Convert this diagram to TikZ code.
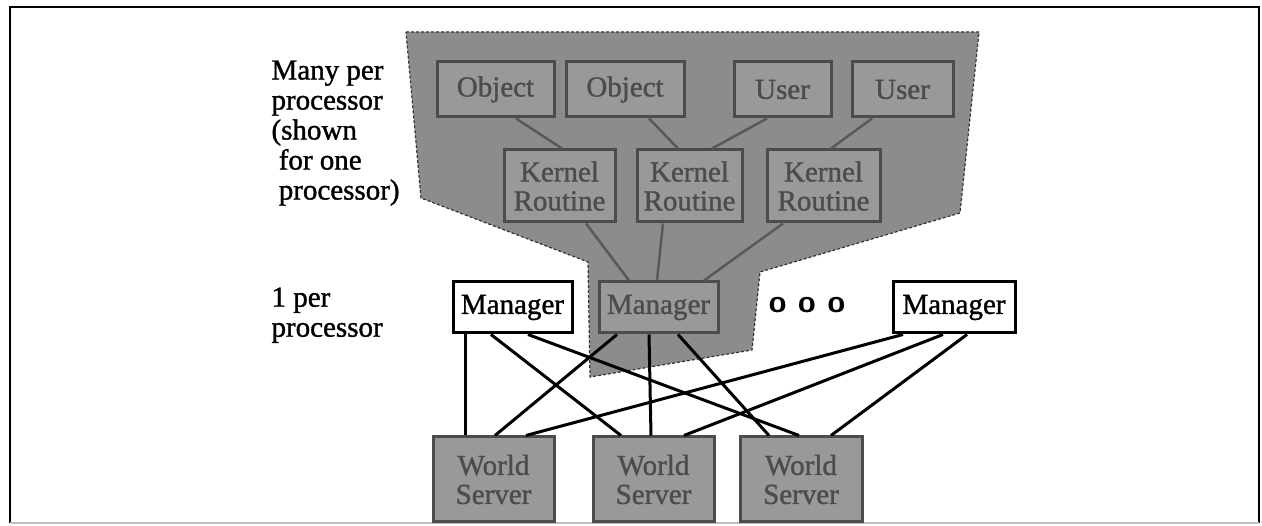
\documentclass[tikz,border=0pt]{standalone}
\usepackage{fontspec}
\setmainfont{Liberation Serif}[FakeBold=1.2]
\usepackage{tikz}
\definecolor{shade}{gray}{0.55}
\definecolor{boxgray}{gray}{0.6}
\tikzset{
  plain/.style={draw, line width=3pt, fill=white, minimum height=51pt, inner sep=0pt,
    font=\fontsize{29}{29}\selectfont},
  greybox/.style={draw=black!70, line width=3pt, fill=boxgray, text=black!70,
    inner sep=0pt, align=center, font=\fontsize{29}{29}\selectfont},
  link/.style={line width=3pt},
  glink/.style={line width=2.5pt, draw=black!65}
}

\begin{document}
\begin{tikzpicture}[x=1pt,y=-1pt]
  \useasboundingbox (0,0) rectangle (1262,526);
  \draw[line width=2pt] (10,523) -- (10,7) -- (1259,7) -- (1259,523);
  \draw[line width=1.5pt, black!25] (10,523) -- (1259,523);
  % shaded area for one processor
  \filldraw[fill=shade, draw=black!80, line width=1.2pt, densely dashed]
    (406,32) -- (979,32) -- (960,213) -- (760,272) -- (752,350)
    -- (590,377) -- (588,262) -- (421,198) -- cycle;
  % labels
  \node[anchor=north west, align=left, font=\fontsize{29}{30}\selectfont] (many) at (268,57)
    {Many per\\processor\\(shown\\\ for one\\\ processor)};
  \node[anchor=north west, align=left, font=\fontsize{29}{30}\selectfont] (one) at (268,284)
    {1 per\\processor};
  % objects and users
  \node[greybox, minimum width=117pt, minimum height=55pt] (obj1) at (495.5,89.5) {Object};
  \node[greybox, minimum width=118pt, minimum height=55pt] (obj2) at (625,89.5) {Object};
  \node[greybox, minimum width=97pt, minimum height=55pt] (usr1) at (782.5,89.5) {User};
  \node[greybox, minimum width=101pt, minimum height=55pt] (usr2) at (902.5,89.5) {User};
  % kernel routines
  \node[greybox, minimum width=111pt, minimum height=72pt] (ker1) at (559.5,186) {Kernel\\Routine};
  \node[greybox, minimum width=105pt, minimum height=72pt] (ker2) at (689.5,186) {Kernel\\Routine};
  \node[greybox, minimum width=113pt, minimum height=72pt] (ker3) at (823.5,186) {Kernel\\Routine};
  % managers
  \node[plain, minimum width=119pt] (man1) at (512.5,307.5) {Manager};
  \node[greybox, minimum width=119pt, minimum height=51pt] (man2) at (658.5,307.5) {Manager};
  \node[font=\sffamily\bfseries\fontsize{32}{30}\selectfont] (dots) at (807,305) {o o o};
  \node[plain, minimum width=122pt] (man3) at (954,307.5) {Manager};
  % world servers
  \node[greybox, minimum width=121pt, minimum height=85pt] (ws1) at (493.5,479.5) {World\\Server};
  \node[greybox, minimum width=121pt, minimum height=85pt] (ws2) at (653.5,479.5) {World\\Server};
  \node[greybox, minimum width=122pt, minimum height=85pt] (ws3) at (801,479.5) {World\\Server};

  \draw[glink] ([xshift=20.5pt]obj1.south) -- ([xshift=2.5pt]ker1.north);
  \draw[glink] ([xshift=24pt]obj2.south) -- ([xshift=-11.5pt]ker2.north);
  \draw[glink] ([xshift=-15.5pt]usr1.south) -- ([xshift=22.5pt]ker2.north);
  \draw[glink] ([xshift=-30.5pt]usr2.south) -- ([xshift=7.5pt]ker3.north);
  \draw[glink] ([xshift=26.5pt]ker1.south) -- ([xshift=-29.5pt]man2.north);
  \draw[glink] ([xshift=-26.5pt]ker2.south) -- ([xshift=-1.5pt]man2.north);
  \draw[glink] ([xshift=-40.5pt]ker3.south) -- ([xshift=45.5pt]man2.north);

  \draw[link] ([xshift=-47.5pt]man1.south) -- ([xshift=-28.5pt]ws1.north);
  \draw[link] ([xshift=-21.5pt]man1.south) -- ([xshift=-32.5pt]ws2.north);
  \draw[link] ([xshift=15.5pt]man1.south) -- ([xshift=-2pt]ws3.north);
  \draw[link] ([xshift=-41.5pt]man2.south) -- ([xshift=1.5pt]ws1.north);
  \draw[link] ([xshift=-9.5pt]man2.south) -- ([xshift=-2.5pt]ws2.north);
  \draw[link] ([xshift=19.5pt]man2.south) -- ([xshift=-32pt]ws3.north);
  \draw[link] ([xshift=-51pt]man3.south) -- ([xshift=32.5pt]ws1.north);
  \draw[link] ([xshift=-11pt]man3.south) -- ([xshift=30.5pt]ws2.north);
  \draw[link] ([xshift=13pt]man3.south) -- ([xshift=30pt]ws3.north);
\end{tikzpicture}
\end{document}
